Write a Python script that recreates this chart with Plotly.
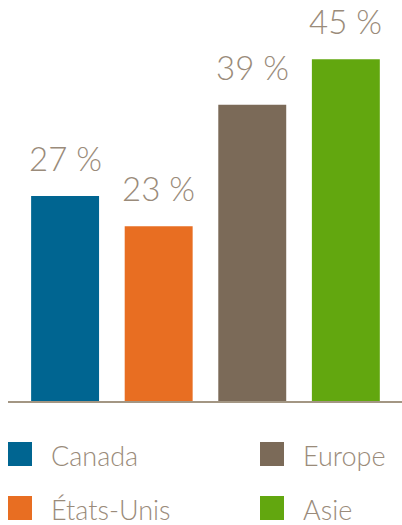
import plotly.graph_objects as go

categories = ["Canada", "États-Unis", "Europe", "Asie"]
values = [27, 23, 39, 45]
labels = ["27 %", "23 %", "39 %", "45 %"]
colors = ["#006591", "#E86E22", "#7B6A58", "#62A70F"]

W, H = 402, 525
ML, MR, MT, MB = 8, 0, 0, 124
TEXT = "#9a8b7a"
FONT = "Lato"

fig = go.Figure()
fig.add_trace(go.Bar(
    x=categories, y=values, marker=dict(color=colors, line=dict(width=0)),
    width=0.726, showlegend=False, hoverinfo="skip",
))

for c, v, t in zip(categories, values, labels):
    fig.add_annotation(x=c, y=v, text=t, showarrow=False, xanchor="center",
                       yanchor="bottom", yshift=16,
                       font=dict(family=FONT, size=33, color=TEXT, weight=300))

pw = W - ML - MR
ph = H - MT - MB
def px(x):
    return (x - ML) / pw
def py(y):
    return (H - MB - y) / ph

# legend: column-major ordering (Canada, États-Unis | Europe, Asie)
col_x = [8, 260]
row_y = [442, 496]
for i, (c, col) in enumerate(zip(categories, colors)):
    cx = col_x[i // 2]
    ry = row_y[i % 2]
    fig.add_shape(type="rect", xref="paper", yref="paper",
                  x0=px(cx), x1=px(cx + 24), y0=py(ry + 24), y1=py(ry),
                  fillcolor=col, line=dict(width=0), layer="above")
    fig.add_annotation(xref="paper", yref="paper", x=px(cx + 41), y=py(ry + 13),
                       text=c, showarrow=False, xanchor="left", yanchor="middle",
                       font=dict(family=FONT, size=27, color=TEXT, weight=300))

fig.update_layout(
    width=W, height=H,
    margin=dict(l=ML, r=MR, t=MT, b=MB, pad=0),
    paper_bgcolor="white", plot_bgcolor="white",
    xaxis=dict(range=[-0.61, 3.6], showticklabels=False, ticks="", showgrid=False,
               zeroline=False, showline=True, linecolor="#a39683", linewidth=2,
               fixedrange=True),
    yaxis=dict(range=[0, 52.8], visible=False, fixedrange=True),
    showlegend=False,
)

fig.write_html("out.html")
